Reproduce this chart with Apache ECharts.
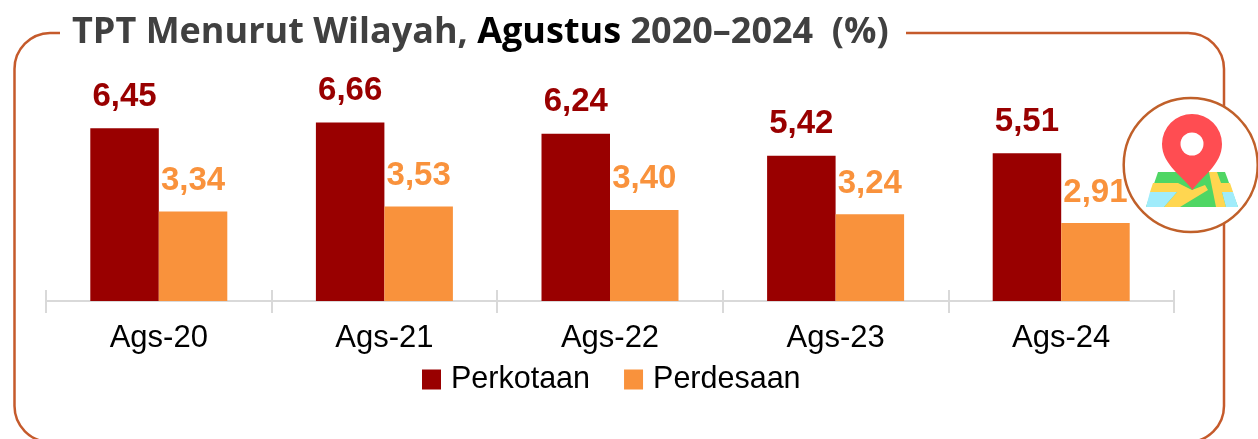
<!DOCTYPE html>
<html>
<head>
<meta charset="utf-8">
<style>
html, body { margin: 0; padding: 0; background: #fff; }
#chart { width: 1258px; height: 439px; }
</style>
<script src="https://cdn.jsdelivr.net/npm/echarts@6/dist/echarts.min.js"></script>
</head>
<body>
<div id="chart"></div>
<script>
var categories = ['Ags-20', 'Ags-21', 'Ags-22', 'Ags-23', 'Ags-24'];
var perkotaan = [6.45, 6.66, 6.24, 5.42, 5.51];
var perdesaan = [3.34, 3.53, 3.40, 3.24, 2.91];

var labelFont = '"Liberation Sans", Arial, sans-serif';
var frameColor = '#C55A2B';

function commaLabel(params) {
    return params.value.toFixed(2).replace('.', ',');
}

// bentuk bingkai dan pin didaftarkan dulu supaya bisa dipakai di graphic
echarts.graphic.registerShape('frameShape', echarts.graphic.extendPath(
    'M60 33 L50 33 A36 36 0 0 0 14.5 69 L14.5 406 A36 36 0 0 0 50 442 L1188 442 A36 36 0 0 0 1224 406 L1224 69 A36 36 0 0 0 1188 33 L906 33'
));
echarts.graphic.registerShape('pinShape', echarts.graphic.extendPath(
    'M1192.5 190 C1184 177 1162 165 1162 144 A30 30 0 0 1 1222 144 C1222 165 1201 177 1192.5 190 Z'
));

var myChart = echarts.init(document.getElementById('chart'));

var option = {
    animation: false,
    backgroundColor: '#fff',
    title: {
        left: 72,
        top: 15,
        padding: 0,
        text: '{a|TPT Menurut Wilayah, }{b|Agustus }{a|2020–2024  (%)}',
        textStyle: {
            rich: {
                a: { fontFamily: '"Open Sans"', fontWeight: 'bold', fontSize: 36, color: '#404040' },
                b: { fontFamily: '"Open Sans"', fontWeight: 'bold', fontSize: 36, color: '#000' }
            }
        }
    },
    legend: {
        left: 417,
        top: 359,
        itemWidth: 19,
        itemHeight: 20,
        itemGap: 34,
        icon: 'rect',
        textStyle: { fontFamily: labelFont, fontSize: 30.5, color: '#000', padding: [0, 0, 0, 5] },
        data: ['Perkotaan', 'Perdesaan']
    },
    grid: { left: 46, right: 84, top: 33, height: 268 },
    xAxis: [
        {
            type: 'category',
            data: categories,
            axisLine: { lineStyle: { color: '#D9D9D9', width: 2 } },
            axisTick: { show: true, length: 12, lineStyle: { color: '#D9D9D9', width: 2 } },
            axisLabel: { fontFamily: labelFont, fontSize: 31, color: '#000', margin: 22 }
        },
        {
            type: 'category',
            position: 'bottom',
            data: categories,
            axisLine: { show: false },
            axisTick: { show: true, inside: true, length: 11, lineStyle: { color: '#D9D9D9', width: 2 } },
            axisLabel: { show: false }
        }
    ],
    yAxis: { type: 'value', min: 0, max: 10, show: false },
    series: [
        {
            name: 'Perkotaan',
            type: 'bar',
            data: perkotaan,
            barWidth: 68.5,
            barGap: 0,
            itemStyle: { color: '#990000' },
            label: {
                show: true,
                position: 'top',
                distance: 15,
                formatter: commaLabel,
                fontFamily: labelFont,
                fontWeight: 'bold',
                fontSize: 33,
                color: '#990000'
            }
        },
        {
            name: 'Perdesaan',
            type: 'bar',
            data: perdesaan,
            barWidth: 68.5,
            itemStyle: { color: '#F9923C' },
            label: {
                show: true,
                position: 'top',
                distance: 14,
                formatter: commaLabel,
                fontFamily: labelFont,
                fontWeight: 'bold',
                fontSize: 33,
                color: '#F9923C'
            }
        }
    ],
    graphic: [
        { type: 'frameShape', z: 1, style: { fill: 'none', stroke: frameColor, lineWidth: 2.5 } },
        // lingkaran ikon peta
        {
            type: 'circle',
            z: 10,
            shape: { cx: 1190.7, cy: 165, r: 67 },
            style: { fill: '#fff', stroke: '#C0602A', lineWidth: 2.5 }
        },
        { type: 'polygon', z: 11, shape: { points: [[1158, 172], [1225, 172], [1238, 207], [1146, 207]] }, style: { fill: '#4FD664' } },
        { type: 'polygon', z: 12, shape: { points: [[1153, 183], [1178, 183], [1192, 190], [1205, 185], [1208, 190], [1180, 207], [1164, 207], [1177, 192], [1150, 192]] }, style: { fill: '#FFD650' } },
        { type: 'polygon', z: 12, shape: { points: [[1209, 172], [1217, 172], [1221, 183], [1230, 183], [1233, 192], [1222, 192], [1226, 207], [1216, 207]] }, style: { fill: '#FFD650' } },
        { type: 'polygon', z: 13, shape: { points: [[1150, 192], [1177, 192], [1164, 207], [1146, 207]] }, style: { fill: '#A0ECFB' } },
        { type: 'polygon', z: 13, shape: { points: [[1222, 192], [1233, 192], [1238, 207], [1226, 207]] }, style: { fill: '#A0ECFB' } },
        { type: 'pinShape', z: 14, style: { fill: '#FF4D52' } },
        { type: 'circle', z: 15, shape: { cx: 1192, cy: 144, r: 11.5 }, style: { fill: '#fff' } }
    ]
};

myChart.setOption(option);
window.addEventListener('resize', function () {
    myChart.resize();
});
</script>
</body>
</html>
